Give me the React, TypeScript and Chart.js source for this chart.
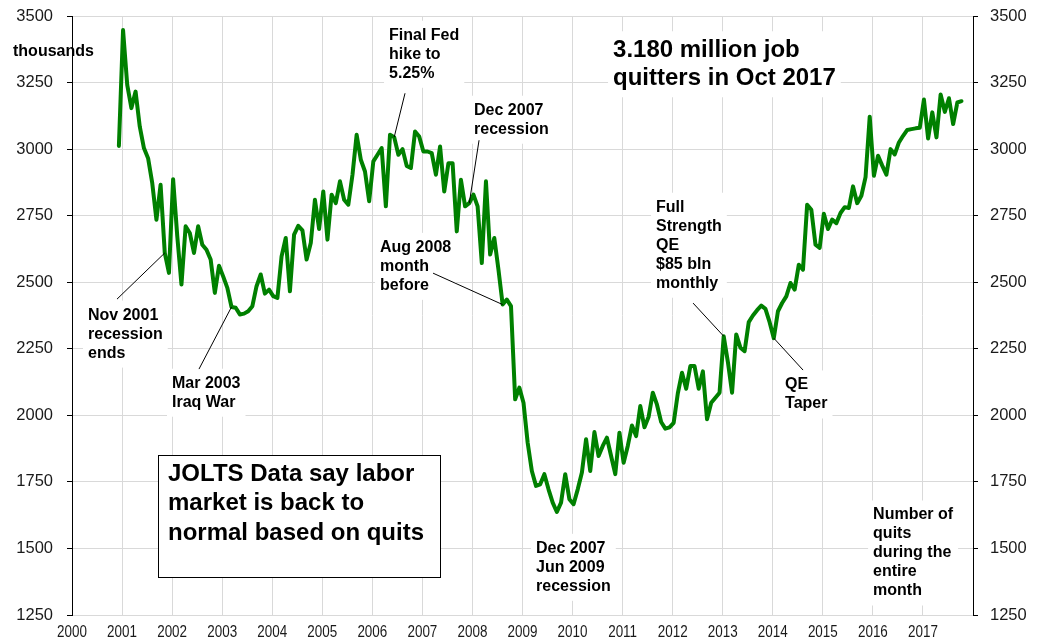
import React, { useEffect, useRef } from "react";
import { Chart, registerables } from "chart.js";

Chart.register(...registerables);

// Monthly JOLTS quits (thousands). First value is Dec 2000.
const quits2000 = [3012];
const quits2001 = [3447, 3241, 3154, 3216, 3085, 3004, 2966, 2872, 2735, 2866, 2610, 2535];
const quits2002 = [2887, 2672, 2491, 2710, 2685, 2610, 2710, 2641, 2622, 2585, 2460, 2562];
const quits2003 = [2522, 2479, 2407, 2404, 2379, 2382, 2391, 2410, 2485, 2529, 2457, 2472];
const quits2004 = [2448, 2441, 2597, 2666, 2466, 2679, 2712, 2695, 2585, 2647, 2810, 2700];
const quits2005 = [2841, 2660, 2829, 2797, 2879, 2810, 2791, 2904, 3054, 2960, 2916, 2804];
const quits2006 = [2954, 2979, 3004, 2785, 3054, 3045, 2979, 3000, 2937, 2929, 3066, 3047];
const quits2007 = [2991, 2991, 2985, 2904, 3010, 2841, 2947, 2947, 2691, 2885, 2785, 2797];
const quits2008 = [2829, 2785, 2572, 2879, 2604, 2666, 2547, 2416, 2435, 2410, 2060, 2104];
const quits2009 = [2047, 1897, 1791, 1735, 1741, 1779, 1722, 1672, 1637, 1672, 1779, 1685];
const quits2010 = [1666, 1722, 1785, 1910, 1791, 1937, 1847, 1885, 1916, 1847, 1779, 1935];
const quits2011 = [1822, 1885, 1962, 1922, 2035, 1955, 1995, 2085, 2040, 1975, 1950, 1955];
const quits2012 = [1972, 2083, 2160, 2100, 2185, 2185, 2100, 2165, 1985, 2047, 2066, 2085];
const quits2013 = [2297, 2200, 2085, 2304, 2254, 2241, 2350, 2375, 2395, 2412, 2400, 2350];
const quits2014 = [2290, 2391, 2422, 2447, 2497, 2472, 2566, 2547, 2791, 2772, 2641, 2629];
const quits2015 = [2757, 2700, 2735, 2722, 2760, 2782, 2779, 2860, 2797, 2825, 2895, 3122];
const quits2016 = [2900, 2975, 2938, 2904, 3000, 2980, 3025, 3050, 3072, 3075, 3078, 3080];
const quits2017 = [3186, 3040, 3138, 3044, 3205, 3140, 3191, 3094, 3175, 3180];

const seriesYears = [2000, 2001, 2002, 2003, 2004, 2005, 2006, 2007, 2008, 2009, 2010, 2011, 2012, 2013, 2014, 2015, 2016, 2017];
const seriesByYear = [
  quits2000, quits2001, quits2002, quits2003, quits2004, quits2005, quits2006, quits2007, quits2008,
  quits2009, quits2010, quits2011, quits2012, quits2013, quits2014, quits2015, quits2016, quits2017,
];
const firstMonthByYear = [11, 0, 0, 0, 0, 0, 0, 0, 0, 0, 0, 0, 0, 0, 0, 0, 0, 0];

const xTickYears = [2000, 2001, 2002, 2003, 2004, 2005, 2006, 2007, 2008, 2009, 2010, 2011, 2012, 2013, 2014, 2015, 2016, 2017];
const yTickValues = [1250, 1500, 1750, 2000, 2250, 2500, 2750, 3000, 3250, 3500];

const X_MIN = 2000;
const X_MAX = 2018;
const Y_MIN = 1250;
const Y_MAX = 3500;
const MONTH_SHIFT = 0.02;

const FONT = "'Liberation Sans', Arial, Helvetica, sans-serif";

function monthTime(year: number, month: number) {
  return year + month / 12 + MONTH_SHIFT;
}

function valueAt(year: number, month: number) {
  const idx = seriesYears.indexOf(year);
  return seriesByYear[idx][month - firstMonthByYear[idx]];
}

function buildPoints() {
  const pts: { x: number; y: number }[] = [];
  seriesYears.forEach((yr, i) => {
    seriesByYear[i].forEach((v, j) => {
      pts.push({ x: monthTime(yr, firstMonthByYear[i] + j), y: v });
    });
  });
  return pts;
}

type Note = {
  lines: string[];
  t: number;
  v: number;
  size: number;
  lh: number;
  bg?: boolean;
  leaderFrom?: [number, number];
  leaderTo?: [number, number];
};

const notes: Note[] = [
  { lines: ["Final Fed", "hike to", "5.25%"], t: 2006.334, v: 3427.6, size: 16, lh: 19, bg: true, leaderFrom: [2006.653, 3209.8], leaderTo: [2006, 5] },
  { lines: ["Dec 2007", "recession"], t: 2008.032, v: 3146, size: 16, lh: 19, bg: true, leaderFrom: [2008.132, 3033.3], leaderTo: [2007, 11] },
  { lines: ["Aug 2008", "month", "before"], t: 2006.154, v: 2631, size: 16, lh: 19, bg: true, leaderFrom: [2007.213, 2534], leaderTo: [2008, 7] },
  { lines: ["Nov 2001", "recession", "ends"], t: 2000.32, v: 2376.5, size: 16, lh: 19, bg: true, leaderFrom: [2000.899, 2436.5], leaderTo: [2001, 10] },
  { lines: ["Mar 2003", "Iraq War"], t: 2001.998, v: 2120.7, size: 16, lh: 19, bg: true, leaderFrom: [2002.537, 2173.8], leaderTo: [2003, 2] },
  { lines: ["Dec 2007", "Jun 2009", "recession"], t: 2009.271, v: 1500.5, size: 16, lh: 19, bg: true },
  { lines: ["Full", "Strength", "QE", "$85 bln", "monthly"], t: 2011.668, v: 2781.7, size: 16, lh: 19, bg: true, leaderFrom: [2012.408, 2421.6], leaderTo: [2013, 0] },
  { lines: ["QE", "Taper"], t: 2014.246, v: 2114, size: 16, lh: 19, bg: true, leaderFrom: [2014.605, 2170], leaderTo: [2014, 0] },
  { lines: ["3.180 million job", "quitters in Oct 2017"], t: 2010.809, v: 3371.3, size: 24, lh: 28, bg: true },
  { lines: ["Number of", "quits", "during the", "entire", "month"], t: 2016.004, v: 1625.6, size: 16, lh: 19, bg: true },
];

const boxNote = {
  lines: ["JOLTS Data say labor", "market is back to", "normal based on quits"],
  t: 2001.918,
  v: 1779,
  size: 24,
  lh: 29.5,
  rect: [2001.718, 1851, 2007.353, 1393],
};

const notesPlugin = {
  id: "notes",
  beforeDatasetsDraw(chart: any) {
    const { ctx, scales } = chart;
    const xs = scales.x;
    const ys = scales.y;
    ctx.save();
    notes.forEach((n) => {
      if (!n.bg) return;
      ctx.font = `bold ${n.size}px ${FONT}`;
      const w = Math.max(...n.lines.map((l) => ctx.measureText(l).width));
      const x = xs.getPixelForValue(n.t);
      const y = ys.getPixelForValue(n.v);
      const pad = 5;
      ctx.fillStyle = "#ffffff";
      ctx.fillRect(x - pad, y - n.lh / 2 - pad, w + pad * 2, n.lh * n.lines.length + pad * 2);
    });
    ctx.restore();
  },
  afterDatasetsDraw(chart: any) {
    const { ctx, scales, chartArea } = chart;
    const xs = scales.x;
    const ys = scales.y;
    ctx.save();
    // leaders
    ctx.strokeStyle = "#000";
    ctx.lineWidth = 1;
    notes.forEach((n) => {
      if (!n.leaderFrom || !n.leaderTo) return;
      const [yr, m] = n.leaderTo;
      ctx.beginPath();
      ctx.moveTo(xs.getPixelForValue(n.leaderFrom[0]), ys.getPixelForValue(n.leaderFrom[1]));
      ctx.lineTo(xs.getPixelForValue(monthTime(yr, m)), ys.getPixelForValue(valueAt(yr, m)));
      ctx.stroke();
    });
    // texts
    ctx.fillStyle = "#000";
    ctx.textAlign = "left";
    ctx.textBaseline = "middle";
    notes.forEach((n) => {
      ctx.font = `bold ${n.size}px ${FONT}`;
      const x = xs.getPixelForValue(n.t);
      const y = ys.getPixelForValue(n.v);
      n.lines.forEach((l, i) => ctx.fillText(l, x, y + i * n.lh));
    });
    // box
    const r = boxNote.rect;
    const x0 = Math.round(xs.getPixelForValue(r[0])) + 0.5;
    const y0 = Math.round(ys.getPixelForValue(r[1])) + 0.5;
    const x1 = Math.round(xs.getPixelForValue(r[2])) + 0.5;
    const y1 = Math.round(ys.getPixelForValue(r[3])) + 0.5;
    ctx.fillStyle = "#fff";
    ctx.fillRect(x0, y0, x1 - x0, y1 - y0);
    ctx.strokeStyle = "#000";
    ctx.lineWidth = 1;
    ctx.strokeRect(x0, y0, x1 - x0, y1 - y0);
    ctx.fillStyle = "#000";
    ctx.font = `bold ${boxNote.size}px ${FONT}`;
    const bx = xs.getPixelForValue(boxNote.t);
    const by = ys.getPixelForValue(boxNote.v);
    boxNote.lines.forEach((l, i) => ctx.fillText(l, bx, by + i * boxNote.lh));
    // unit label
    ctx.font = `bold 16px ${FONT}`;
    ctx.fillText("thousands", 13, ys.getPixelForValue(3365));
    // condensed x-axis year labels
    ctx.fillStyle = "#1a1a1a";
    ctx.font = `16px ${FONT}`;
    ctx.textAlign = "center";
    xTickYears.forEach((yr) => {
      ctx.save();
      ctx.translate(xs.getPixelForValue(yr), chartArea.bottom + 18);
      ctx.scale(0.84, 1);
      ctx.fillText(String(yr), 0, 0);
      ctx.restore();
    });
    ctx.restore();
  },
};

function fixVertical(s: any) {
  s.width = 72;
  s.paddingTop = 0;
  s.paddingBottom = 0;
}

export default function App() {
  const ref = useRef<HTMLCanvasElement | null>(null);

  useEffect(() => {
    if (!ref.current) return;
    const tickFont = { family: FONT, size: 16.5 };
    const chart = new Chart(ref.current, {
      type: "line",
      data: {
        datasets: [
          {
            data: buildPoints(),
            borderColor: "#008000",
            borderWidth: 4,
            pointRadius: 0,
            tension: 0,
            fill: false,
            borderJoinStyle: "round",
            borderCapStyle: "round",
            xAxisID: "x",
            yAxisID: "y",
          },
        ],
      },
      options: {
        responsive: false,
        animation: false,
        devicePixelRatio: 1,
        layout: { padding: { top: 16, left: 0, right: 0, bottom: 0 } },
        plugins: { legend: { display: false }, tooltip: { enabled: false } },
        scales: {
          x: {
            type: "linear",
            min: X_MIN,
            max: X_MAX,
            afterBuildTicks: (s: any) => {
              s.ticks = xTickYears.map((v) => ({ value: v }));
            },
            afterFit: (s: any) => {
              s.height = 27;
              s.paddingLeft = 0;
              s.paddingRight = 0;
            },
            ticks: { display: false },
            grid: { color: "#d9d9d9", lineWidth: 1, drawTicks: false },
            border: { color: "#d9d9d9", width: 1 },
          },
          y: {
            position: "left",
            min: Y_MIN,
            max: Y_MAX,
            afterBuildTicks: (s: any) => {
              s.ticks = yTickValues.map((v) => ({ value: v }));
            },
            afterFit: fixVertical,
            ticks: {
              padding: 14,
              color: "#1a1a1a",
              font: tickFont,
              callback: (v: any) => String(v),
            },
            grid: { color: "#d9d9d9", lineWidth: 1, tickColor: "#000", tickLength: 5, drawTicks: true },
            border: { color: "#000", width: 1 },
          },
          y2: {
            position: "right",
            min: Y_MIN,
            max: Y_MAX,
            afterBuildTicks: (s: any) => {
              s.ticks = yTickValues.map((v) => ({ value: v }));
            },
            afterFit: fixVertical,
            ticks: {
              padding: 12,
              color: "#1a1a1a",
              font: tickFont,
              callback: (v: any) => String(v),
            },
            grid: { drawOnChartArea: false, tickColor: "#000", tickLength: 5, drawTicks: true },
            border: { color: "#000", width: 1 },
          },
        },
      },
      plugins: [notesPlugin],
    } as any);
    return () => chart.destroy();
  }, []);

  return (
    <div style={{ position: "absolute", left: 0, top: 0, width: 1045, height: 642, background: "#fff" }}>
      <canvas ref={ref} width={1045} height={642} />
    </div>
  );
}
